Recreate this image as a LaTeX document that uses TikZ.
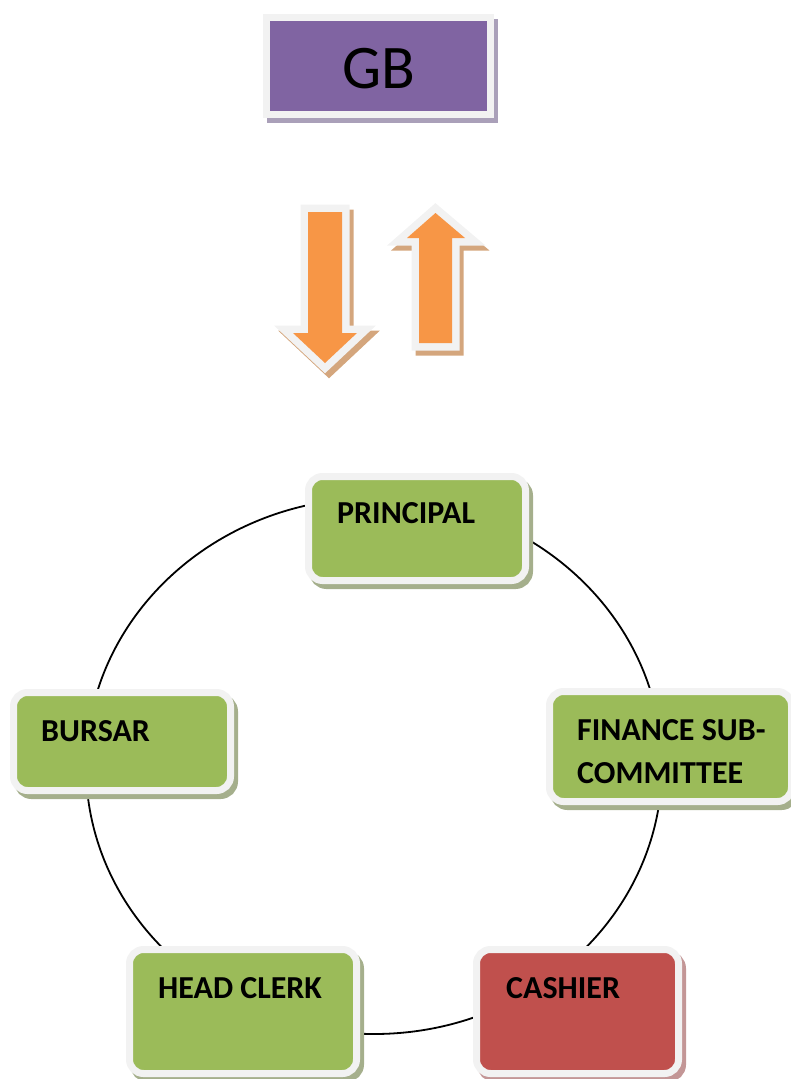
\documentclass[tikz,border=0pt]{standalone}
\usepackage{fontspec}
\setmainfont{Carlito}
\usetikzlibrary{shadows}
\definecolor{framecol}{HTML}{F2F2F2}
\definecolor{greenfill}{HTML}{9BBB59}
\definecolor{greensh}{HTML}{A5AF8C}
\definecolor{purplefill}{HTML}{8064A2}
\definecolor{purplesh}{HTML}{AAA0B9}
\definecolor{redfill}{HTML}{C0504D}
\definecolor{redsh}{HTML}{C39696}
\definecolor{orangefill}{HTML}{F79646}
\definecolor{orangesh}{HTML}{D4A67D}
\tikzset{
  boxframe/.style={draw=framecol, line width=7pt, inner sep=0pt},
  boxshadow/.style={general shadow={fill=#1, draw=#1, line width=7pt, shadow xshift=4pt, shadow yshift=-5pt}},
  roundbox/.style={rectangle, rounded corners=14pt, boxframe},
  lbl/.style={inner sep=0pt, anchor=base west, align=left, font=\fontsize{32}{43}\selectfont\bfseries},
  cycleline/.style={draw=black, line width=1.8pt},
}
\begin{document}
\begin{tikzpicture}[x=1pt,y=-1pt]
\useasboundingbox (0,0) rectangle (791,1079);
% GB box
\node[rectangle, boxframe, boxshadow=purplesh, fill=purplefill, minimum width=224pt, minimum height=97pt] (gb) at (378.5,66) {};
\node[inner sep=0pt, anchor=base, font=\fontsize{62}{66}\selectfont] (gbt) at (378.5,88) {GB};
% arrows
\def\downarrow{(308,212) -- (342,212) -- (342,333) -- (357,333) -- (325,363) -- (293,333) -- (308,333) -- cycle}
\def\uparrow{(435.5,213) -- (465,238) -- (452,238) -- (452,343) -- (419,343) -- (419,238) -- (407,238) -- cycle}
\begin{scope}[shift={(4pt,-5pt)}]
  \filldraw[draw=orangesh, fill=orangesh, line width=15pt, line join=miter] \downarrow;
  \filldraw[draw=orangesh, fill=orangesh, line width=15pt, line join=miter] \uparrow;
\end{scope}
\filldraw[draw=framecol, fill=framecol, line width=15pt, line join=miter] \downarrow;
\filldraw[draw=framecol, fill=framecol, line width=15pt, line join=miter] \uparrow;
\fill[orangefill] \downarrow;
\fill[orangefill] \uparrow;
% cycle
\coordinate (cc) at (374,766);
\draw[cycleline] (cc) ellipse [x radius=288pt, y radius=268pt];
% boxes
\node[roundbox, boxshadow=greensh, fill=greenfill, minimum width=217pt, minimum height=104pt] (principal) at (417,528.5) {};
\node[lbl] (principalt) at (337,523) {PRINCIPAL};
\node[roundbox, boxshadow=greensh, fill=greenfill, minimum width=217pt, minimum height=98pt] (bursar) at (122,741.5) {};
\node[lbl] (bursart) at (41,741) {BURSAR};
\node[roundbox, boxshadow=greensh, fill=greenfill, minimum width=242pt, minimum height=110pt] (finance) at (670.5,746.5) {};
\node[lbl] (financet) at (577,783) {FINANCE SUB-\\COMMITTEE};
\node[roundbox, boxshadow=greensh, fill=greenfill, minimum width=227pt, minimum height=124pt] (headclerk) at (243,1011.5) {};
\node[lbl] (headclerkt) at (158,998) {HEAD CLERK};
\node[roundbox, boxshadow=redsh, fill=redfill, minimum width=202pt, minimum height=124pt] (cashier) at (577.5,1011.5) {};
\node[lbl] (cashiert) at (506,998) {CASHIER};
\end{tikzpicture}
\end{document}
